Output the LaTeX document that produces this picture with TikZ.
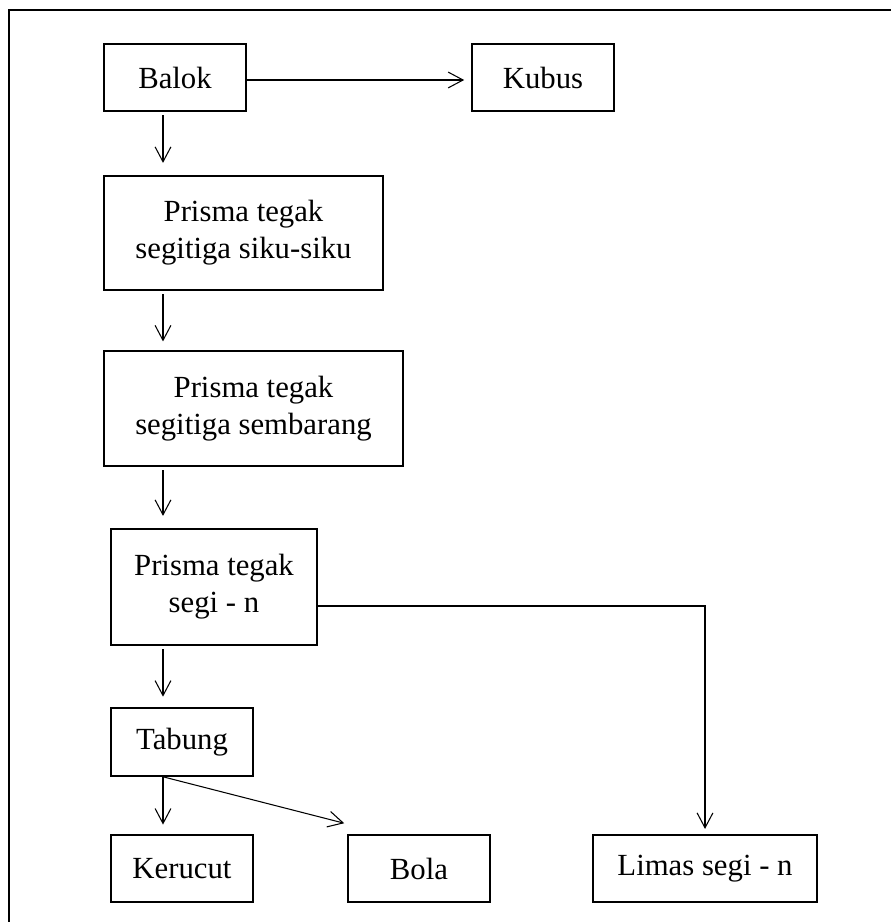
\documentclass[tikz,border=0pt]{standalone}
\usepackage{fontspec}
\setmainfont{Liberation Serif}
\usepackage{tikz}
\usetikzlibrary{arrows.meta, positioning, calc}

\tikzset{
  box/.style={draw, line width=0.9pt, align=center, inner sep=0pt,
    font=\fontsize{17.5}{21}\selectfont},
  arr/.style={line width=0.6pt, -{Straight Barb[length=8.5pt, width=9pt, line width=0.6pt]},
    shorten <=2pt, shorten >=5pt},
  frame/.style={line width=0.9pt}
}

\begin{document}
\begin{tikzpicture}[x=0.02cm, y=-0.02cm]
  \useasboundingbox (0,0) rectangle (891,922);
  \draw[frame] (9,922) -- (9,10) -- (891,10);

  \coordinate (col) at (163,0);

  \node[box, minimum width=2.84cm, minimum height=1.34cm] (balok) at (175,77.5) {Balok};
  \node[box, minimum width=2.84cm, minimum height=1.34cm] (kubus) at (543,77.5) {Kubus};
  \node[box, minimum width=5.58cm, minimum height=2.28cm] (prisA) at (243.5,233) {Prisma tegak\\segitiga siku-siku};
  \node[box, minimum width=5.98cm, minimum height=2.30cm] (prisB) at (253.5,408.5) {Prisma tegak\\segitiga sembarang};
  \node[box, minimum width=4.12cm, minimum height=2.32cm] (prisC) at (214,587) {Prisma tegak\\segi - n};
  \node[box, minimum width=2.84cm, minimum height=1.36cm] (tabung) at (182,742) {Tabung};
  \node[box, minimum width=2.84cm, minimum height=1.34cm] (kerucut) at (182,868.5) {Kerucut};
  \node[box, minimum width=2.84cm, minimum height=1.34cm] (bola) at (419,868.5) {Bola};
  \node[box, minimum width=4.48cm, minimum height=1.34cm] (limas) at (705,868.5) {Limas segi - n};

  \draw[arr, shorten <=0pt, shorten >=4pt] ([yshift=-0.05cm]balok.east) -- ([yshift=-0.05cm]kubus.west);
  \draw[arr, shorten >=7pt] (balok.south -| col) -- (prisA.north -| col);
  \draw[arr] (prisA.south -| col) -- (prisB.north -| col);
  \draw[arr, shorten >=7pt] (prisB.south -| col) -- (prisC.north -| col);
  \draw[arr, shorten >=6pt] (prisC.south -| col) -- (tabung.north -| col);
  \draw[arr, shorten <=0pt, shorten >=5.5pt] (tabung.south -| col) -- (kerucut.north -| col);
  \draw[arr, shorten <=0pt, shorten >=0pt] (tabung.south -| col) -- ($(bola.north west)+(-3,-11)$);
  \draw[arr, shorten <=0pt, shorten >=3pt] ([yshift=-0.38cm]prisC.east) -| (limas.north);
\end{tikzpicture}
\end{document}
